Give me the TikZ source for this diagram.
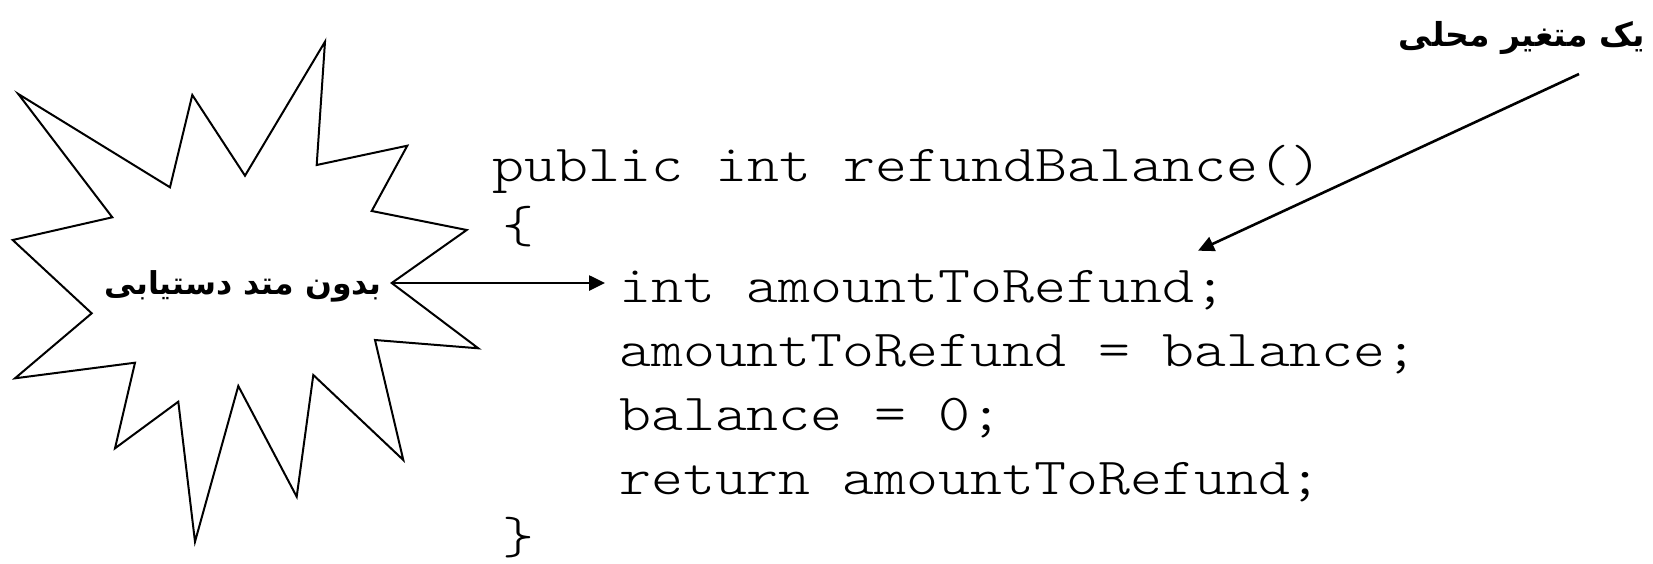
\documentclass[tikz,border=0pt]{standalone}
\usepackage{fontspec}
\usetikzlibrary{arrows.meta}
\TeXXeTstate=1
\newfontfamily\arabicfont[Script=Arabic]{DejaVu Sans}
\newfontfamily\codefont[FakeStretch=1.17]{lmmonolt10-regular.otf}

\tikzset{
  burst/.style={draw=black, line width=2pt, fill=white, line join=miter},
  pointer/.style={draw=black, line width=2.6pt, -{Triangle[length=16pt,width=15pt]}},
  arlabel/.style={font=\arabicfont\bfseries, inner sep=0pt, anchor=base},
  codeline/.style={font=\codefont\fontsize{52}{60}\selectfont, inner sep=0pt, anchor=base west},
}

\begin{document}
\begin{tikzpicture}[x=1pt,y=-1pt]
  \useasboundingbox (0,0) rectangle (1653,563);
  \fill[white] (0,0) rectangle (1653,563);

  % explosion shape around the left note
  \coordinate (burstR) at (391.7,283);
  \draw[burst] (325,41.7) -- (316.7,165) -- (407.3,145.7) -- (371.7,211)
    -- (466.7,230) -- (burstR) -- (478.3,348.3) -- (375,340) -- (403.3,460)
    -- (313.3,375) -- (296.7,496.7) -- (238.3,386) -- (195,541.7)
    -- (178.3,401.7) -- (115,448.3) -- (135,362.7) -- (15,378.3)
    -- (91.7,313.3) -- (12.7,240) -- (112.3,217.3) -- (18.3,94)
    -- (170,187.3) -- (192.3,95) -- (245,175.7) -- cycle;

  \node[arlabel] (noaccess) at (243,294)
    {\fontsize{31.5}{38}\selectfont\beginR بدون متد دستیابی\endR};
  \node[arlabel] (localvar) at (1522,46)
    {\fontsize{33}{40}\selectfont\beginR یک متغیر محلی\endR};

  % method body
  \node[codeline] (l1) at (492,181.5) {public int refundBalance()};
  \node[codeline] (l2) at (502,242) {\{};
  \node[codeline] (l3) at (619,302) {int amountToRefund;};
  \node[codeline] (l4) at (619,366) {amountToRefund = balance;};
  \node[codeline] (l5) at (619,430) {balance = 0;};
  \node[codeline] (l6) at (619,494) {return amountToRefund;};
  \node[codeline] (l7) at (502,553) {\}};

  % connectors
  \coordinate (tipA) at (605,283);
  \draw[pointer] (burstR) -- (tipA);
  \coordinate (tailB) at (1579,74);
  \coordinate (tipB) at (1198,250.7);
  \draw[pointer] (tailB) -- (tipB);
\end{tikzpicture}
\end{document}
